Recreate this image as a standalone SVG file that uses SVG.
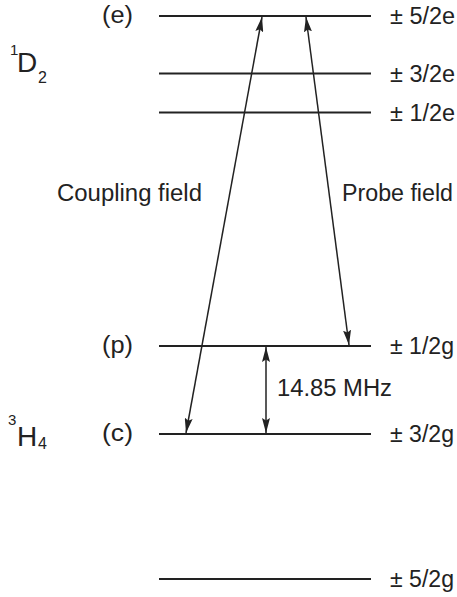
<svg xmlns="http://www.w3.org/2000/svg" width="457" height="597" viewBox="0 0 457 597">
<style>
text{font-family:"Liberation Sans",Arial,sans-serif;fill:#222}
.t{font-size:23px}
.lvl{stroke:#222;stroke-width:2;fill:none}
.arr{stroke:#222;stroke-width:1.5;fill:none;marker-start:url(#ah);marker-end:url(#ah)}
</style>
<defs>
<marker id="ah" markerUnits="userSpaceOnUse" markerWidth="15" markerHeight="8" refX="15" refY="4" orient="auto-start-reverse" viewBox="0 0 15 8">
<path d="M0,0 L15,4 L0,8 L2.5,4 z" fill="#222"/>
</marker>
</defs>
<rect width="457" height="597" fill="#fff"/>
<g id="level-e5">
<line class="lvl" x1="159" y1="16" x2="371" y2="16"/>
<text class="t" x="102" y="23" textLength="31" lengthAdjust="spacingAndGlyphs">(e)</text>
<text class="t" x="390" y="24" textLength="65" lengthAdjust="spacingAndGlyphs">± 5/2e</text>
</g>
<g id="level-e3">
<line class="lvl" x1="159" y1="73.5" x2="371" y2="73.5"/>
<text class="t" x="390" y="81.5" textLength="65" lengthAdjust="spacingAndGlyphs">± 3/2e</text>
</g>
<g id="level-e1">
<line class="lvl" x1="159" y1="112.5" x2="371" y2="112.5"/>
<text class="t" x="390" y="120.5" textLength="65" lengthAdjust="spacingAndGlyphs">± 1/2e</text>
</g>
<g id="level-g1">
<line class="lvl" x1="159" y1="346" x2="371" y2="346"/>
<text class="t" x="102" y="353" textLength="31" lengthAdjust="spacingAndGlyphs">(p)</text>
<text class="t" x="390" y="354" textLength="64" lengthAdjust="spacingAndGlyphs">± 1/2g</text>
</g>
<g id="level-g3">
<line class="lvl" x1="159" y1="434" x2="371" y2="434"/>
<text class="t" x="102" y="441" textLength="31" lengthAdjust="spacingAndGlyphs">(c)</text>
<text class="t" x="390" y="442" textLength="64" lengthAdjust="spacingAndGlyphs">± 3/2g</text>
</g>
<g id="level-g5">
<line class="lvl" x1="159" y1="579" x2="371" y2="579"/>
<text class="t" x="390" y="587" textLength="64" lengthAdjust="spacingAndGlyphs">± 5/2g</text>
</g>
<g id="term-1D2">
<text x="10" y="55" font-size="15">1</text>
<text x="17" y="72" font-size="28">D</text>
<text x="38" y="83" font-size="16">2</text>
</g>
<g id="term-3H4">
<text x="8" y="425" font-size="15">3</text>
<text x="17" y="446" font-size="28">H</text>
<text x="38" y="449" font-size="16">4</text>
</g>
<g id="connectors">
<line class="arr" x1="186" y1="433" x2="262" y2="17"/>
<line class="arr" x1="306" y1="17" x2="349" y2="345"/>
<line class="arr" x1="266" y1="347" x2="266" y2="433"/>
</g>
<g id="labels">
<text class="t" x="57" y="201" textLength="145" lengthAdjust="spacingAndGlyphs">Coupling field</text>
<text class="t" x="342" y="201" textLength="111" lengthAdjust="spacingAndGlyphs">Probe field</text>
<text class="t" x="277" y="396" textLength="115" lengthAdjust="spacingAndGlyphs">14.85 MHz</text>
</g>
</svg>
